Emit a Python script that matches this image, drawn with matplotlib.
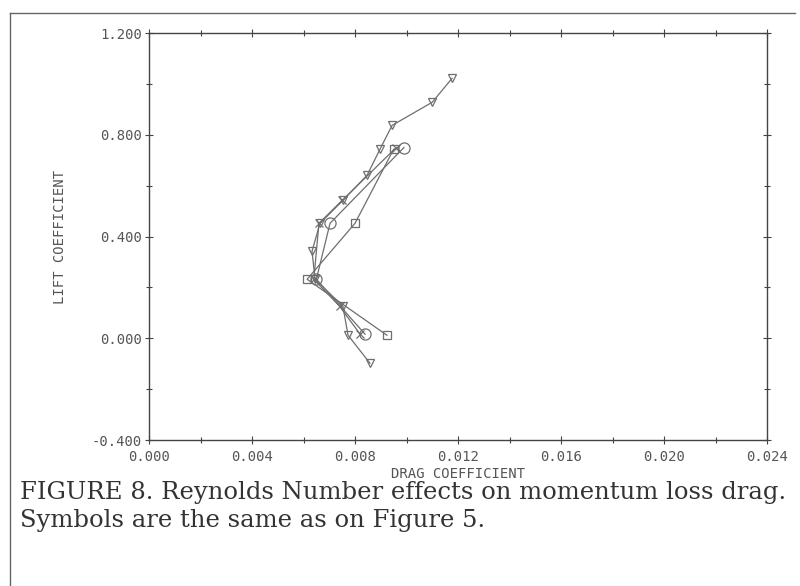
import matplotlib.pyplot as plt
from matplotlib.lines import Line2D
import numpy as np

# drag / lift pairs, one list per Reynolds number
tri_cd = [0.00858, 0.00773, 0.00753, 0.00645, 0.00633, 0.00664, 0.00753, 0.00847, 0.00897, 0.00944, 0.01100, 0.01177]
tri_cl = [-0.098, 0.012, 0.126, 0.232, 0.342, 0.452, 0.542, 0.641, 0.743, 0.837, 0.928, 1.022]

circ_cd = [0.00839, 0.00650, 0.00703, 0.00990]
circ_cl = [0.016, 0.232, 0.452, 0.750]

sq_cd = [0.00924, 0.00614, 0.00800, 0.00950]
sq_cl = [0.012, 0.232, 0.452, 0.743]

x_cd = [0.00820, 0.00740, 0.00640, 0.00660, 0.00750, 0.00960]
x_cl = [0.016, 0.126, 0.232, 0.452, 0.542, 0.750]

x_ticks = [0.000, 0.004, 0.008, 0.012, 0.016, 0.020, 0.024]
y_ticks = [-0.400, 0.000, 0.400, 0.800, 1.200]

grey = "#6e6e6e"
mono = "DejaVu Sans Mono"

fig = plt.figure(figsize=(8, 5.86), dpi=100)
ax = fig.add_axes([0.18625, 0.2491, 0.7725, 0.6945])

ax.plot(tri_cd, tri_cl, color=grey, lw=0.9, marker="v", ms=6, mfc="none", mec=grey, mew=0.9)
ax.plot(circ_cd, circ_cl, color=grey, lw=0.9, marker="o", ms=8, mfc="none", mec=grey, mew=0.9)
ax.plot(sq_cd, sq_cl, color=grey, lw=0.9, marker="s", ms=6, mfc="none", mec=grey, mew=0.9)
ax.plot(x_cd, x_cl, color=grey, lw=0.9, marker="x", ms=6, mfc="none", mec=grey, mew=0.9)

ax.set_xlim(0, 0.024)
ax.set_ylim(-0.4, 1.2)
ax.set_xticks(x_ticks)
ax.set_xticklabels([f"{v:.3f}" for v in x_ticks], fontfamily=mono, fontsize=10, color="#555555")
ax.set_yticks(y_ticks)
ax.set_yticklabels([f"{v:.3f}" for v in y_ticks], fontfamily=mono, fontsize=10, color="#555555")
ax.set_xticks(np.arange(0, 0.0241, 0.002), minor=True)
ax.set_yticks(np.arange(-0.4, 1.21, 0.2), minor=True)
ax.tick_params(which="both", direction="inout", length=5, width=0.8, color="#444444",
               top=True, right=True)
ax.tick_params(which="major", length=6)
ax.tick_params(axis="x", pad=4)
ax.tick_params(axis="y", pad=2)
for s in ax.spines.values():
    s.set_color("#444444")
    s.set_linewidth(1.0)

ax.set_xlabel("DRAG COEFFICIENT", fontfamily=mono, fontsize=10, color="#555555", labelpad=2)
ax.set_ylabel("LIFT COEFFICIENT", fontfamily=mono, fontsize=10, color="#555555", labelpad=18)

# page frame around the figure
fig.add_artist(Line2D([0.012, 0.994], [0.977, 0.977], color="#666666", lw=1.0))
fig.add_artist(Line2D([0.012, 0.012], [0.0, 0.977], color="#666666", lw=1.0))

cap = dict(fontfamily="DejaVu Serif", fontsize=17.5, color="#333333", va="center")
fig.text(0.025, 0.16, "FIGURE 8. Reynolds Number effects on momentum loss drag.", **cap)
fig.text(0.025, 0.111, "Symbols are the same as on Figure 5.", **cap)

fig.savefig("out.png", dpi=100)
